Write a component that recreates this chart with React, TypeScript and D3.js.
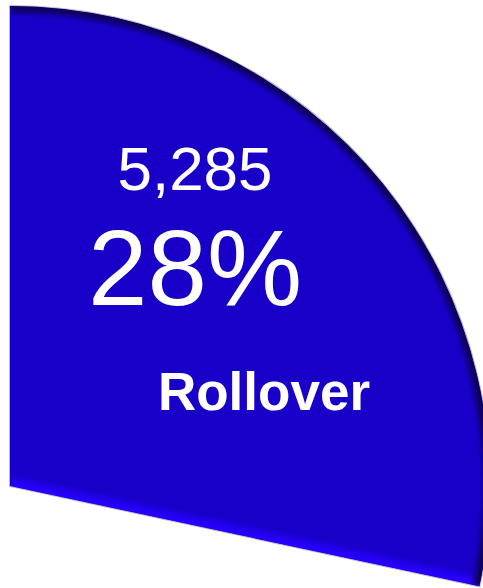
import React from "react";
import * as d3 from "d3";

const categories = ["Rollover", "Other"];
const values = [5285, 13357];
const percentLabels = ["28%", ""];
const countLabels = ["5,285", ""];

const W = 483;
const H = 588;
const CX = 10;
const CY = 486;
const R = 480;

export default function App() {
  const pie = d3
    .pie<number>()
    .sort(null)
    .startAngle(0)
    .endAngle(2 * Math.PI)
    .value((d) => d);
  const arcs = pie(values);
  const a = arcs[0];
  const arcGen = d3.arc<any>().innerRadius(0).outerRadius(R);
  const slicePath = arcGen(a) as string;

  const leftEdge = `M0,0 L${R * Math.sin(a.startAngle)},${-R * Math.cos(a.startAngle)}`;
  const bottomEdge = `M0,0 L${R * Math.sin(a.endAngle)},${-R * Math.cos(a.endAngle)}`;
  const arcOnly = d3.path();
  arcOnly.arc(0, 0, R, a.startAngle - Math.PI / 2, a.endAngle - Math.PI / 2);

  return (
    <svg
      width={W}
      height={H}
      style={{ position: "absolute", left: 0, top: 0, background: "#fff" }}
      fontFamily="'Liberation Sans', Arial, sans-serif"
    >
      <defs>
        <clipPath id="sliceClip">
          <path d={slicePath} />
        </clipPath>
        <filter id="blur4" x="-20%" y="-20%" width="140%" height="140%">
          <feGaussianBlur stdDeviation="3.5" />
        </filter>
        <filter id="blur2" x="-20%" y="-20%" width="140%" height="140%">
          <feGaussianBlur stdDeviation="2.5" />
        </filter>
      </defs>
      <g transform={`translate(${CX},${CY})`}>
        <path d={slicePath} fill="none" stroke="#b8b8c8" strokeWidth={2} />
        <g clipPath="url(#sliceClip)">
          <path d={slicePath} fill="#1900c8" />
          <path d={leftEdge} stroke="#2c00ff" strokeWidth={20} filter="url(#blur4)" />
          <path d={bottomEdge} stroke="#2800ff" strokeWidth={16} filter="url(#blur4)" />
          <path d={arcOnly.toString()} fill="none" stroke="#0a005c" strokeWidth={13} filter="url(#blur2)" />
        </g>
      </g>
      <text x={195} y={190} textAnchor="middle" fill="#fff" fontSize={62}>
        {countLabels[0]}
      </text>
      <text x={195} y={305} textAnchor="middle" fill="#fff" fontSize={107}>
        {percentLabels[0]}
      </text>
      <text x={264} y={410} textAnchor="middle" fill="#fff" fontSize={53} fontWeight="bold">
        {categories[0]}
      </text>
    </svg>
  );
}
